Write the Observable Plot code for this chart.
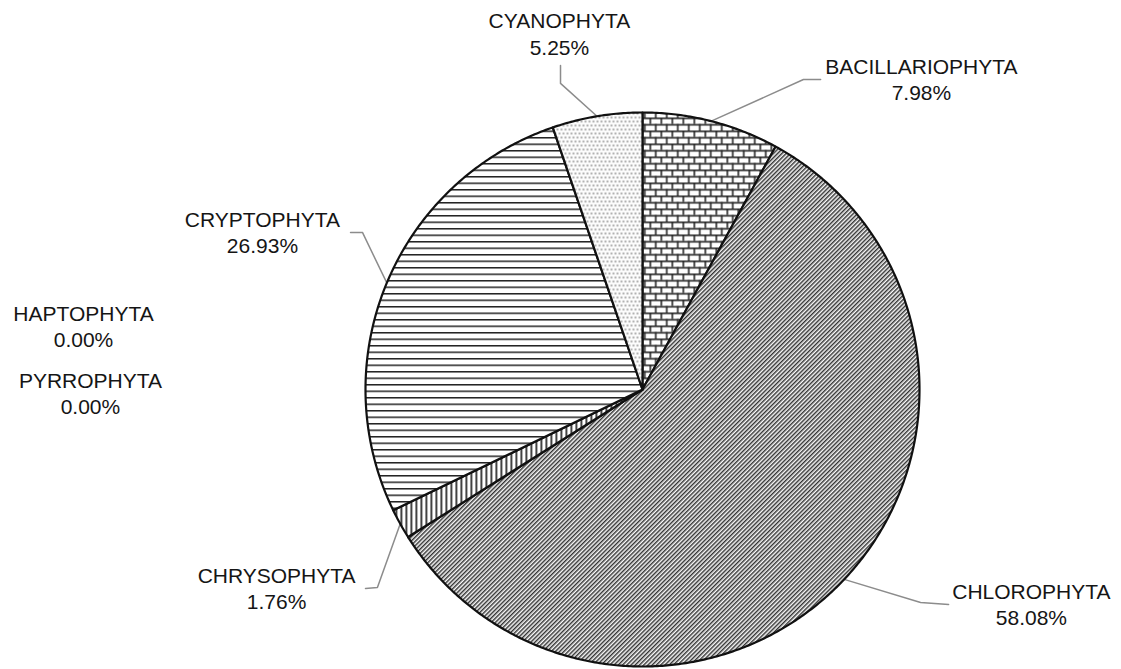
<!DOCTYPE html>
<html>
<head>
<meta charset="utf-8">
<script src="https://cdn.jsdelivr.net/npm/d3@7"></script>
<script src="https://cdn.jsdelivr.net/npm/@observablehq/plot@0.6"></script>
<style>
  html, body { margin: 0; padding: 0; background: #ffffff; }
  #chart { width: 1121px; height: 669px; }
</style>
</head>
<body>
<div id="chart"></div>
<script>
// ---- data ----
const names = ["BACILLARIOPHYTA", "CHLOROPHYTA", "CHRYSOPHYTA", "CRYPTOPHYTA", "CYANOPHYTA", "HAPTOPHYTA", "PYRROPHYTA"];
const percents = [7.98, 58.08, 1.76, 26.93, 5.25, 0.00, 0.00];

// ---- style / layout (pie radius = 1 unit, centre at 0,0) ----
const patternIds = ["brick", "diag", "vlines", "hlines", "dots", "none", "none"];
const labelX = [1.007, 1.404, -1.321, -1.372, -0.300, -2.018, -1.993];
const labelY = [1.121, -0.774, -0.715, 0.570, 1.287, 0.231, -0.010];
const elbowX = [0.581, 1.004, -0.957, -1.011, -0.296];
const elbowY = [1.119, -0.769, -0.715, 0.567, 1.105];
const endX = [0.643, 1.105, -1.000, -1.054, -0.296];
const endY = [1.119, -0.776, -0.718, 0.567, 1.170];

const W = 1121, H = 669, CX = 642, CY = 389, R = 277;

// slice geometry from the values
const total = d3.sum(percents);
let cum = 0;
const slices = names.map((n, i) => {
  const a0 = cum / total * 2 * Math.PI;
  cum += percents[i];
  const a1 = cum / total * 2 * Math.PI;
  return {name: n, i, a0, a1, mid: (a0 + a1) / 2, value: percents[i]};
});

function slicePoints(s) {
  const pts = [{x: 0, y: 0}];
  const steps = Math.max(2, Math.ceil((s.a1 - s.a0) / (Math.PI / 360)));
  for (let k = 0; k <= steps; k++) {
    const a = s.a0 + (s.a1 - s.a0) * k / steps;
    pts.push({x: Math.sin(a), y: Math.cos(a)});
  }
  pts.push({x: 0, y: 0});
  return pts;
}

const sliceMarks = slices.filter(s => s.value > 0).map(s =>
  Plot.line(slicePoints(s), {
    x: "x", y: "y",
    fill: `url(#pat-${patternIds[s.i]})`,
    stroke: "#111", strokeWidth: 2.2, strokeLinejoin: "round", curve: "linear"
  })
);

const leaders = [];
slices.filter(s => s.value > 0).forEach(s => {
  leaders.push({k: s.name, x: Math.sin(s.mid), y: Math.cos(s.mid)});
  leaders.push({k: s.name, x: elbowX[s.i], y: elbowY[s.i]});
  leaders.push({k: s.name, x: endX[s.i], y: endY[s.i]});
});

const labels = slices.map(s => ({
  x: labelX[s.i], y: labelY[s.i],
  text: `${s.name}\n${s.value.toFixed(2)}%`
}));

const svg = Plot.plot({
  width: W, height: H,
  margin: 0,
  style: {background: "#ffffff", overflow: "visible"},
  x: {domain: [-CX / R, (W - CX) / R], axis: null},
  y: {domain: [-(H - CY) / R, CY / R], axis: null},
  marks: [
    Plot.line(leaders, {x: "x", y: "y", z: "k", stroke: "#8c8c8c", strokeWidth: 1.5, curve: "linear"}),
    ...sliceMarks,
    Plot.text(labels, {
      x: "x", y: "y", text: "text",
      fontSize: 21, lineHeight: 1.25, fill: "#151515",
      fontFamily: "'Liberation Sans', Arial, sans-serif"
    })
  ]
});

// SVG fill patterns
const ns = "http://www.w3.org/2000/svg";
const defs = document.createElementNS(ns, "defs");
defs.innerHTML = `
  <pattern id="pat-brick" patternUnits="userSpaceOnUse" width="11" height="13">
    <rect width="11" height="13" fill="#fff"/>
    <rect x="0" y="0" width="11" height="1.6" fill="#222"/>
    <rect x="0" y="6.5" width="11" height="1.6" fill="#222"/>
    <rect x="0" y="0" width="1.6" height="6.5" fill="#222"/>
    <rect x="5.5" y="6.5" width="1.6" height="6.5" fill="#222"/>
  </pattern>
  <pattern id="pat-diag" patternUnits="userSpaceOnUse" width="3" height="3" patternTransform="rotate(45)">
    <rect width="3" height="3" fill="#f8f8f8"/>
    <rect x="0" y="0" width="1.45" height="3" fill="#333"/>
  </pattern>
  <pattern id="pat-hlines" patternUnits="userSpaceOnUse" width="6" height="6.5">
    <rect width="6" height="6.5" fill="#fff"/>
    <rect x="0" y="0" width="6" height="1.5" fill="#222"/>
  </pattern>
  <pattern id="pat-vlines" patternUnits="userSpaceOnUse" width="5" height="5">
    <rect width="5" height="5" fill="#fff"/>
    <rect x="0" y="0" width="1.7" height="5" fill="#222"/>
  </pattern>
  <pattern id="pat-dots" patternUnits="userSpaceOnUse" width="8" height="8">
    <rect width="8" height="8" fill="#fcfcfc"/>
    <circle cx="1" cy="1" r="0.8" fill="#555"/>
    <circle cx="5" cy="1" r="0.8" fill="#555"/>
    <circle cx="3" cy="5" r="0.8" fill="#555"/>
    <circle cx="7" cy="5" r="0.8" fill="#555"/>
  </pattern>`;
svg.insertBefore(defs, svg.firstChild);

document.getElementById("chart").appendChild(svg);
</script>
</body>
</html>
